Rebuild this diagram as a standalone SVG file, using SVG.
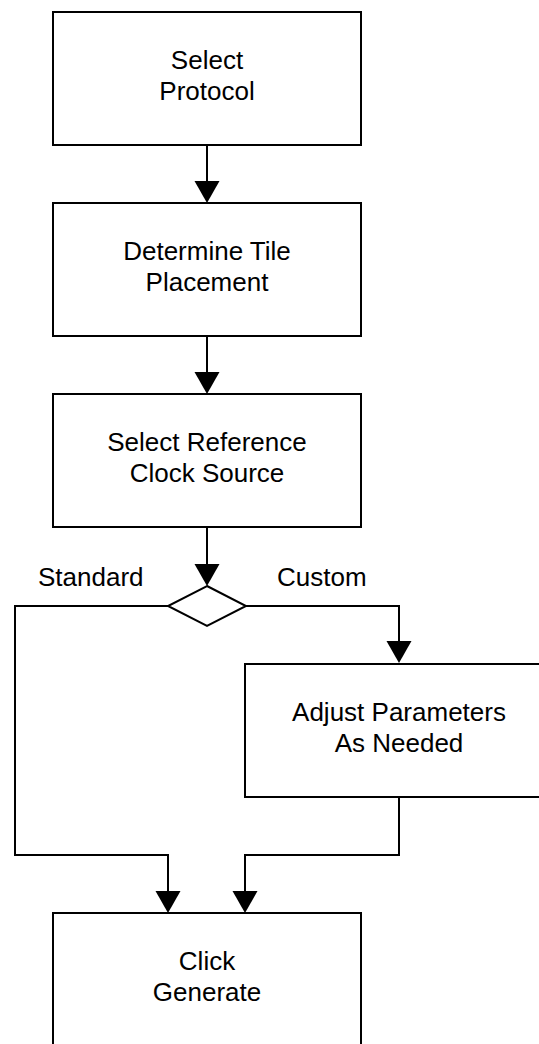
<svg xmlns="http://www.w3.org/2000/svg" width="539" height="1044" viewBox="0 0 539 1044">
<defs>
<style>
.box{fill:#fff;stroke:#000;stroke-width:2}
.dia{fill:#fff;stroke:#000;stroke-width:2}
.lbl{font-family:"Liberation Sans",Arial,Helvetica,sans-serif;font-size:26px;fill:#000;text-anchor:middle}
.edge{font-family:"Liberation Sans",Arial,Helvetica,sans-serif;font-size:26px;fill:#000}
.con{fill:none;stroke:#000;stroke-width:2}
</style>
<marker id="ah" markerUnits="userSpaceOnUse" markerWidth="24" markerHeight="26" refX="20" refY="12.5" orient="auto" viewBox="0 0 24 26">
<path d="M0,0 L22,12.5 L0,25 Z" fill="#000"/>
</marker>
</defs>
<rect width="539" height="1044" fill="#fff"/>
<g id="connectors">
<path class="con" d="M207,145 V201" marker-end="url(#ah)"/>
<path class="con" d="M207,336 V392" marker-end="url(#ah)"/>
<path class="con" d="M207,527 V584" marker-end="url(#ah)"/>
<path class="con" d="M246,606 H399 V661" marker-end="url(#ah)"/>
<path class="con" d="M168,606 H15 V855 H168 V911" marker-end="url(#ah)"/>
<path class="con" d="M399,797 V855 H245 V911" marker-end="url(#ah)"/>
<text class="edge" x="38" y="586">Standard</text>
<text class="edge" x="277" y="586">Custom</text>
</g>
<g id="select-protocol">
<rect class="box" x="53" y="12" width="308" height="133"/>
<text class="lbl" x="207" y="69">Select</text>
<text class="lbl" x="207" y="100">Protocol</text>
</g>
<g id="determine-tile">
<rect class="box" x="53" y="203" width="308" height="133"/>
<text class="lbl" x="207" y="260">Determine Tile</text>
<text class="lbl" x="207" y="291">Placement</text>
</g>
<g id="select-clock">
<rect class="box" x="53" y="394" width="308" height="133"/>
<text class="lbl" x="207" y="451">Select Reference</text>
<text class="lbl" x="207" y="482">Clock Source</text>
</g>
<g id="decision">
<polygon class="dia" points="207,586 246,606 207,626 168,606"/>
</g>
<g id="adjust-params">
<rect class="box" x="245" y="664" width="308" height="133"/>
<text class="lbl" x="399" y="721">Adjust Parameters</text>
<text class="lbl" x="399" y="752">As Needed</text>
</g>
<g id="click-generate">
<rect class="box" x="53" y="913" width="308" height="133"/>
<text class="lbl" x="207" y="970">Click</text>
<text class="lbl" x="207" y="1001">Generate</text>
</g>
</svg>
